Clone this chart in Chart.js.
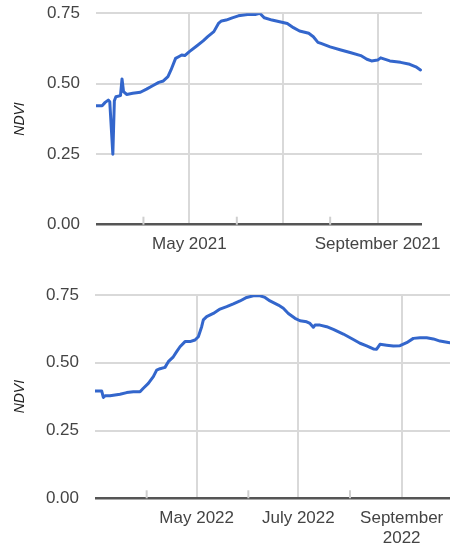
<!DOCTYPE html>
<html>
<head>
<meta charset="utf-8">
<script src="https://cdn.jsdelivr.net/npm/chart.js@4/dist/chart.umd.min.js"></script>
<style>
  html, body { margin: 0; padding: 0; background: #fff; }
  #wrap { position: relative; width: 452px; height: 551px; }
  .box { position: absolute; left: 0; width: 452px; }
</style>
</head>
<body>
<div id="wrap">
  <div class="box" style="top:0;height:270px"><canvas id="c2021"></canvas></div>
  <div class="box" style="top:275px;height:276px"><canvas id="c2022"></canvas></div>
</div>
<script>
// NDVI time series, growing season 2021
const dates2021 = [
  '2021-03-01','2021-03-05','2021-03-07','2021-03-09','2021-03-10','2021-03-12','2021-03-13','2021-03-14',
  '2021-03-17','2021-03-18','2021-03-19','2021-03-21','2021-03-25','2021-03-30','2021-04-03','2021-04-07',
  '2021-04-11','2021-04-14','2021-04-17','2021-04-19','2021-04-22','2021-04-24','2021-04-26','2021-04-28',
  '2021-05-01','2021-05-06','2021-05-10','2021-05-13','2021-05-17','2021-05-20','2021-05-22','2021-05-25',
  '2021-05-29','2021-06-02','2021-06-08','2021-06-13','2021-06-16','2021-06-19','2021-06-24','2021-06-29',
  '2021-07-04','2021-07-08','2021-07-12','2021-07-18','2021-07-21','2021-07-24','2021-07-26','2021-08-01',
  '2021-08-08','2021-08-14','2021-08-21','2021-08-25','2021-08-28','2021-09-01','2021-09-03','2021-09-09',
  '2021-09-16','2021-09-22','2021-09-26','2021-09-29'
];
const ndvi2021 = [
  0.422, 0.422, 0.434, 0.442, 0.436, 0.250, 0.440, 0.454,
  0.458, 0.517, 0.472, 0.462, 0.466, 0.470, 0.481, 0.493,
  0.505, 0.510, 0.525, 0.549, 0.590, 0.596, 0.602, 0.600,
  0.614, 0.635, 0.652, 0.667, 0.685, 0.714, 0.723, 0.726,
  0.734, 0.741, 0.746, 0.746, 0.750, 0.734, 0.726, 0.720,
  0.714, 0.699, 0.687, 0.679, 0.667, 0.647, 0.643, 0.631,
  0.620, 0.611, 0.600, 0.587, 0.581, 0.584, 0.592, 0.581,
  0.576, 0.569, 0.560, 0.549
];

// NDVI time series, growing season 2022
const dates2022 = [
  '2022-03-01','2022-03-05','2022-03-06','2022-03-07','2022-03-10','2022-03-16','2022-03-20','2022-03-24',
  '2022-03-28','2022-03-30','2022-04-02','2022-04-05','2022-04-07','2022-04-09','2022-04-12','2022-04-14',
  '2022-04-17','2022-04-19','2022-04-21','2022-04-24','2022-04-27','2022-04-30','2022-05-02','2022-05-04',
  '2022-05-05','2022-05-07','2022-05-11','2022-05-15','2022-05-19','2022-05-23','2022-05-27','2022-05-31',
  '2022-06-04','2022-06-08','2022-06-11','2022-06-14','2022-06-19','2022-06-22','2022-06-25','2022-06-29',
  '2022-07-02','2022-07-06','2022-07-08','2022-07-10','2022-07-11','2022-07-14','2022-07-18','2022-07-22',
  '2022-07-28','2022-08-03','2022-08-07','2022-08-11','2022-08-15','2022-08-17','2022-08-19','2022-08-23',
  '2022-08-27','2022-08-31','2022-09-04','2022-09-08','2022-09-12','2022-09-16','2022-09-20','2022-09-24',
  '2022-09-29','2022-09-30'
];
const ndvi2022 = [
  0.396, 0.396, 0.372, 0.378, 0.378, 0.384, 0.390, 0.393,
  0.393, 0.406, 0.424, 0.449, 0.473, 0.478, 0.483, 0.504,
  0.522, 0.541, 0.559, 0.578, 0.578, 0.584, 0.596, 0.633,
  0.658, 0.670, 0.682, 0.698, 0.707, 0.717, 0.728, 0.741,
  0.747, 0.747, 0.741, 0.728, 0.713, 0.701, 0.682, 0.664,
  0.655, 0.651, 0.645, 0.631, 0.639, 0.639, 0.633, 0.623,
  0.606, 0.586, 0.572, 0.562, 0.551, 0.550, 0.568, 0.565,
  0.562, 0.563, 0.574, 0.590, 0.592, 0.592, 0.588, 0.580,
  0.575, 0.574
];

// Axis tick labels
const yTickValues = [0, 0.25, 0.5, 0.75];
const labels2021 = { 4: 'May 2021', 8: 'September 2021' };
const labels2022 = { 4: 'May 2022', 6: 'July 2022', 8: ['September', '2022'] };
const majorMonths = [4, 6, 8];   // May, July, September get gridlines
const minorMonths = [3, 5, 7];   // April, June, August get short ticks

const FONT = "'Liberation Sans', Arial, sans-serif";

// days since 1 March of the same year
function seasonDay(iso) {
  const [y, m, d] = iso.split('-').map(Number);
  return (Date.UTC(y, m - 1, d) - Date.UTC(y, 2, 1)) / 86400000;
}
function monthStart(year, month) {
  return (Date.UTC(year, month, 1) - Date.UTC(year, 2, 1)) / 86400000;
}

// short tick marks rising from the baseline at the unlabelled months
const minorTickPlugin = {
  id: 'minorTicks',
  beforeDatasetsDraw(chart, args, opts) {
    const xs = chart.scales.x, ys = chart.scales.y;
    const ctx = chart.ctx;
    const base = ys.getPixelForValue(0);
    ctx.save();
    ctx.strokeStyle = '#cfcfcf';
    ctx.lineWidth = 2;
    (opts.values || []).forEach(v => {
      const px = xs.getPixelForValue(v);
      ctx.beginPath();
      ctx.moveTo(px, base);
      ctx.lineTo(px, base - 8);
      ctx.stroke();
    });
    ctx.restore();
  }
};

function makeChart(id, year, dates, values, labelMap, lay) {
  const monthOf = {};
  const tickVals = [3, 4, 5, 6, 7, 8].map(m => {
    const v = monthStart(year, m);
    monthOf[v] = m;
    return v;
  });
  const points = dates.map((d, i) => ({ x: seasonDay(d), y: values[i] }));
  return new Chart(document.getElementById(id), {
    type: 'line',
    data: {
      datasets: [{
        data: points,
        borderColor: '#3366cc',
        borderWidth: 3,
        pointRadius: 0,
        tension: 0,
        borderJoinStyle: 'round',
        borderCapStyle: 'round',
        fill: false
      }]
    },
    options: {
      responsive: true,
      maintainAspectRatio: false,
      animation: false,
      events: [],
      layout: { padding: { top: lay.top, right: lay.right, left: 0, bottom: 0 } },
      plugins: {
        legend: { display: false },
        tooltip: { enabled: false },
        minorTicks: { values: minorMonths.map(m => monthStart(year, m)) }
      },
      scales: {
        x: {
          type: 'linear',
          min: monthStart(year, 2),
          max: monthStart(year, 8) + 29,
          afterBuildTicks(scale) { scale.ticks = tickVals.map(v => ({ value: v })); },
          afterFit(scale) {
            scale.height = lay.xHeight;
            scale.paddingLeft = 0;
            scale.paddingRight = 0;
          },
          border: { display: false },
          grid: {
            drawTicks: false,
            lineWidth: 2,
            color: ctx => (ctx.tick && majorMonths.includes(monthOf[ctx.tick.value])) ? '#d9d9d9' : 'rgba(0,0,0,0)'
          },
          ticks: {
            autoSkip: false,
            maxRotation: 0,
            padding: lay.xPad,
            color: '#444',
            font: { family: FONT, size: 17 },
            callback: v => labelMap[monthOf[v]] || ''
          }
        },
        y: {
          min: 0,
          max: 0.75,
          afterBuildTicks(scale) { scale.ticks = yTickValues.map(v => ({ value: v })); },
          afterFit(scale) {
            scale.width = lay.yWidth;
            scale.paddingTop = 0;
            scale.paddingBottom = 0;
          },
          border: { display: false },
          grid: {
            drawTicks: false,
            lineWidth: ctx => (ctx.tick && ctx.tick.value === 0) ? 2.5 : 2,
            color: ctx => (ctx.tick && ctx.tick.value === 0) ? '#555' : '#d9d9d9'
          },
          ticks: {
            padding: 16,
            color: '#444',
            font: { family: FONT, size: 17 },
            callback: v => Number(v).toFixed(2)
          },
          title: {
            display: true,
            text: 'NDVI',
            color: '#222',
            padding: { top: 12, bottom: 0 },
            font: { family: FONT, size: 14, style: 'italic' }
          }
        }
      }
    },
    plugins: [minorTickPlugin]
  });
}

makeChart('c2021', 2021, dates2021, ndvi2021, labels2021,
  { top: 13.3, right: 30, yWidth: 96, xHeight: 45.3, xPad: 9 });
makeChart('c2022', 2022, dates2022, ndvi2022, labels2022,
  { top: 20, right: 2, yWidth: 95, xHeight: 52.7, xPad: 9.5 });
</script>
</body>
</html>
